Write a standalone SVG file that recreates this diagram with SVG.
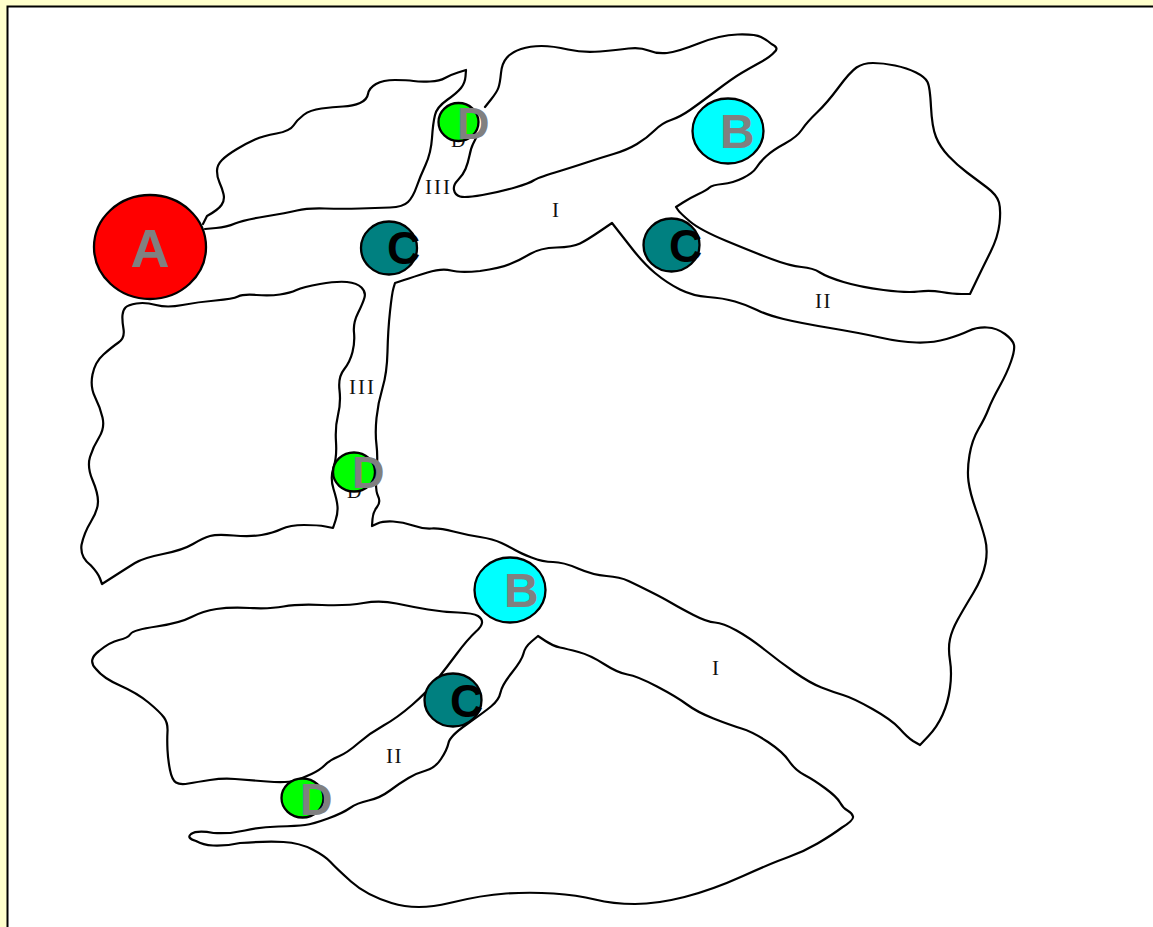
<svg xmlns="http://www.w3.org/2000/svg" width="1153" height="927" viewBox="0 0 1153 927">
<style>
.o{fill:none;stroke:#000;stroke-width:2.200;stroke-linejoin:round;stroke-linecap:round}
.n{stroke:#000;stroke-width:2.300}
.k{font-family:"Liberation Sans",Arial,sans-serif;font-weight:bold}
.g{fill:#808080}
.s{font-family:"Liberation Serif","Times New Roman",serif;fill:#111}
.teal{fill:#008080}.lime{fill:#00ff00}.aqua{fill:#00ffff}
</style>
<rect width="1153" height="927" fill="#ffffcc"/>
<rect x="7.500" y="6.500" width="1160" height="935" fill="#fff" stroke="#000" stroke-width="2"/>
<g id="connectors">
<path class="o" d="M203,224 L207,216 Q218,210 221.500,205 Q225,200 223.500,194 Q222,188 219.500,182.500 Q217,177 217,171 Q217,165 222,160 Q227,155 237,149 Q247,143 255,139.500 Q263,136 276.500,133.500 Q290,131 293.500,125.500 Q297,120 303.500,115 Q310,110 321.500,108.500 Q333,107 343,106.500 Q353,106 360,103 Q367,100 368,94 Q369,88 376,84 Q383,80 395,80 Q407,80 413.500,81 Q420,82 430,81.500 Q440,81 445,78 Q450,75 458,72.500 L466,70 L465.500,76.500 Q465,83 461,88 Q457,93 447,100 Q437,107 435,115 Q433,123 432,138 Q431,153 425.500,165 Q420,177 416.500,187 Q413,197 408,202 Q403,207 390,207.500 Q377,208 360,208.500 Q343,209 325,208.500 Q307,208 297,210.500 Q287,213 265,216.500 Q243,220 235,223.500 Q227,227 216,228 L205,229"/>
<path class="o" d="M485,107 L491,99.500 Q497,92 498.500,87.500 Q500,83 501,73 Q502,63 507,57.500 Q512,52 521,49 Q530,46 541.500,46 Q553,46 568,49.500 Q583,53 600,51.500 Q617,50 628.500,48.500 Q640,47 648.500,50.500 Q657,54 667,53 Q677,52 698.500,43.500 Q720,35 737.500,34.500 Q755,34 761,37 Q767,40 771.500,44 Q780,48 774,52.500 Q770,57 760,62.500 Q750,68 741.500,73 Q733,78 716.500,90.500 Q700,103 690,110 Q680,117 671,120 Q662,123 654.500,130.500 Q647,138 637,144 Q627,150 613.500,154 Q600,158 586.500,162.500 Q573,167 555,172.500 Q537,178 533.500,180.500 Q530,183 515,187.500 Q500,192 482.500,195 Q465,198 460,196.500 Q455,195 454,190 Q453,185 458,180 Q463,175 465.500,169 Q468,163 469.500,155.500 Q471,148 473,144 L476,138"/>
<path class="o" d="M676,207 L683,202.500 Q690,198 698.500,194 Q707,190 709.500,187.500 Q712,185 722.500,184 Q733,183 743,178 Q753,173 756.500,167.500 Q760,162 766.500,156 Q773,150 785,143.500 Q797,137 802,129.500 Q807,122 817,112.500 Q827,103 838.500,87.500 Q850,72 856.500,67.500 Q863,63 873,63 Q883,63 895,65.500 Q907,68 916,72.500 Q925,77 927.500,82 Q930,87 931,107 Q932,127 936,137 Q940,147 948.500,156 Q957,165 967,172.500 Q977,180 987,187.500 Q997,195 999,202.500 Q1001,210 999.500,223.500 Q998,237 990.500,252 Q983,267 976.500,280.500 L970,294 L961.500,294 Q953,294 941.500,292 Q930,290 918.500,291.500 Q907,293 883.500,290 Q860,287 843.500,282 Q827,277 820,272.500 Q813,268 801.500,267 Q790,266 771.500,259 Q753,252 726.500,241 Q700,230 690,221.500 Q680,213 678,210 Z"/>
<path class="o" d="M395,283 L404,280 Q413,277 427.500,272.500 Q442,268 451,270.500 Q460,273 480,271 Q500,268 510,264 Q520,260 530,254 Q540,248 556.500,247.500 Q573,247 580,243.500 Q587,240 599.500,231.500 L612,223 L630,246 Q643,263 655,273 Q667,283 680,289.500 Q693,296 708,297 Q723,298 735,301.500 Q747,305 757,310 Q767,315 783.500,319 Q800,323 830,328 Q860,333 880,337.500 Q900,342 916.500,342.500 Q933,343 946.500,339 Q960,335 968.500,331 Q977,327 987,327.500 Q997,328 1005,334 Q1013,340 1014,345 Q1015,350 1011,361.500 Q1007,373 999.500,386.500 Q992,400 988.500,409 Q985,418 978.500,429 Q972,440 969.500,455 Q967,470 968.500,481.500 Q970,493 976,510 Q982,527 985,538.500 Q988,550 985.500,563.500 Q983,577 973,593.500 Q963,610 957.500,620 Q952,630 950,639 Q948,648 950,660.500 Q952,673 950,688 Q948,703 942.500,715 Q937,727 928.500,736 L920,745 L913,741 Q907,737 899.500,728.500 Q892,720 872.500,709 Q853,698 843,695 Q833,692 821.500,687.500 Q810,683 795,672.500 Q780,662 765,650 Q750,638 736.500,630.500 Q723,623 715,622.500 Q707,622 693.500,615 Q680,608 671.500,603 Q663,598 650,591.500 Q637,585 628.500,581 Q620,577 606.500,576 Q593,575 578,568.500 Q563,562 553,562 Q543,562 531.500,557.500 Q520,553 515,550 Q510,547 501.500,543 Q493,539 480,537 Q467,535 453.500,531.500 Q440,528 431.500,528.500 Q423,529 413,525.500 Q403,522 393,521.500 Q383,521 377.500,523.500 L372,526 L372.500,519 Q373,512 377,507 Q381,502 378,496 Q375,490 376.500,473.500 Q378,457 376.500,445 Q375,433 376.500,418 Q378,403 382.500,388 Q387,373 387.500,351.500 Q388,330 390,311.500 Q392,293 393.500,288 Z"/>
<path class="o" d="M125.500,307.500 Q128,305 136.500,303.500 Q145,302 156,305 Q167,308 182.500,305 Q198,302 215.500,300.500 Q233,299 238,296.500 Q243,294 256.500,295 Q270,296 280,294.500 Q290,293 296.500,290 Q303,287 320,284 Q337,281 347,282 Q357,283 361.500,287.500 Q366,292 364.500,297.500 Q363,303 358,313 Q353,323 354,332.500 Q355,342 352.500,352 Q350,362 344,369.500 Q338,377 339.500,390 Q341,403 338,415 Q335,427 336,442 Q337,457 333.500,467.500 Q330,478 333.500,489 Q337,500 337.500,506.500 Q338,513 335.500,520.500 L333,528 L325.500,526.500 Q318,525 304,525 Q290,525 281.500,529 Q273,533 261.500,535 Q250,537 233.500,535.500 Q217,534 210,536 Q203,538 193,544 Q183,550 163,554 Q143,558 135,563 Q127,568 114.500,576 L102,584 L100,578.500 Q98,573 90.500,565 Q80,557 81.500,545 Q84,533 91,521.500 Q98,510 98,501.500 Q98,493 92.500,480 Q87,467 90,457 Q93,447 99,437.500 Q105,428 102.500,417.500 Q100,407 95,397 Q90,387 92.500,374.500 Q95,362 103.500,354.500 Q112,347 118.500,342.500 Q125,338 123.500,329 Q122,320 122.500,315 Q123,310 125.500,307.500 Z"/>
<path class="o" d="M478,616 Q487,622 476,631.500 Q467,640 457,653.500 Q447,667 437,679.500 Q427,692 412,705 Q397,718 383.500,725.500 Q370,733 358.500,743 Q347,753 338.500,756.500 Q330,760 325,765 Q320,770 311.500,774 Q303,778 295,780.500 Q287,783 267,781.500 Q247,780 235,779 Q223,778 210,780 Q197,782 188.500,783.500 Q180,785 176,782.500 Q172,780 170,770 Q168,760 167.500,750 Q167,740 167.500,731.500 Q168,723 164,717.500 Q160,712 148.500,702.500 Q137,693 120,685.500 Q103,678 96,669 Q87,660 99,651 Q110,642 119,640 Q128,638 130.500,634 Q133,630 156.500,626.500 Q180,623 191.500,617 Q203,611 216.500,609 Q230,607 250,608 Q270,609 283.500,606.500 Q297,604 322,605 Q347,606 363.500,603 Q380,600 396.500,603.500 Q413,607 428,609.500 Q443,612 458,612.500 Q473,613 478,616 Z"/>
<path class="o" d="M538,636 L531.500,641.500 Q525,647 523.500,653.500 Q522,660 512,672.500 Q502,685 500.500,692.500 Q499,700 491,706.500 Q483,713 466.500,724.500 Q450,736 448.500,743 Q447,750 441,759 Q435,768 426,770.500 Q417,773 408.500,778 Q400,783 390,790.500 Q380,798 368.500,800.500 Q357,803 350,808 Q343,813 328,818.500 Q313,824 305,825 Q297,826 278.500,826.500 Q260,827 245,830.500 Q230,834 213.500,833 Q197,830 191,834 Q186,838 196,841 Q203,845 213,845.500 Q227,846 240,843 Q267,841 283.500,842 Q300,843 312.500,849.500 Q325,856 330.500,862 Q336,868 351,881.500 Q366,895 391.500,903 Q417,911 449.500,903 Q482,895 506,893.500 Q530,892 553.500,893.500 Q577,895 595,899.500 Q613,904 635,904 Q657,904 684.500,897 Q712,890 743,876 Q774,862 788.500,857 Q803,852 817.500,843.500 Q832,835 842,827.500 Q854,820 853,816.500 Q852,813 847.500,810.500 Q843,808 840,802.500 Q837,797 825.500,788.500 Q814,780 804.500,775 Q795,770 789,761 Q783,752 768,742 Q753,732 741.500,728.500 Q730,725 713.500,718.500 Q697,712 687,704.500 Q677,697 657,686.500 Q637,676 627.500,674.500 Q618,673 604,664 Q590,655 578.500,652 Q567,649 560,647.500 Q553,646 545.500,641 Z"/>
</g>
<g id="labels">
<text class="s" x="425" y="194" font-size="21" letter-spacing="2">III</text>
<text class="s" x="552" y="217" font-size="21">I</text>
<text class="s" x="815" y="308" font-size="21" letter-spacing="1.500">II</text>
<text class="s" x="349" y="394" font-size="21" letter-spacing="2">III</text>
<text class="s" x="712" y="675" font-size="21">I</text>
<text class="s" x="386" y="763" font-size="21" letter-spacing="1.500">II</text>
<text class="s" x="451" y="147" font-size="20">D</text>
<text class="s" x="347" y="498" font-size="20">D</text>
</g>
<g id="node-A"><ellipse class="n" cx="150" cy="247" rx="56" ry="52" fill="#ff0000"/><text class="k g" x="150" y="267" font-size="54" text-anchor="middle">A</text></g>
<g id="node-B1"><ellipse class="n aqua" cx="728" cy="131" rx="35.500" ry="32.500"/><text class="k g" x="720" y="148" font-size="48">B</text></g>
<g id="node-B2"><ellipse class="n aqua" cx="510" cy="590" rx="35.500" ry="32.500"/><text class="k g" x="504" y="607" font-size="48">B</text></g>
<g id="node-C1"><ellipse class="n teal" cx="389" cy="248" rx="28" ry="26.500"/><text class="k" x="387" y="264" font-size="46">C</text></g>
<g id="node-C2"><ellipse class="n teal" cx="671.500" cy="245" rx="28" ry="26.500"/><text class="k" x="669" y="262" font-size="46">C</text></g>
<g id="node-C3"><ellipse class="n teal" cx="453" cy="700" rx="28.500" ry="26.500"/><text class="k" x="450" y="717" font-size="46">C</text></g>
<g id="node-D1"><ellipse class="n lime" cx="458.500" cy="122" rx="20" ry="19"/><text class="k g" x="457" y="139" font-size="45">D</text></g>
<g id="node-D2"><ellipse class="n lime" cx="354" cy="472" rx="21" ry="19.500"/><text class="k g" x="352" y="488" font-size="45">D</text></g>
<g id="node-D3"><ellipse class="n lime" cx="302.500" cy="798" rx="21" ry="19.500"/><text class="k g" x="300" y="815" font-size="45">D</text></g>
</svg>
